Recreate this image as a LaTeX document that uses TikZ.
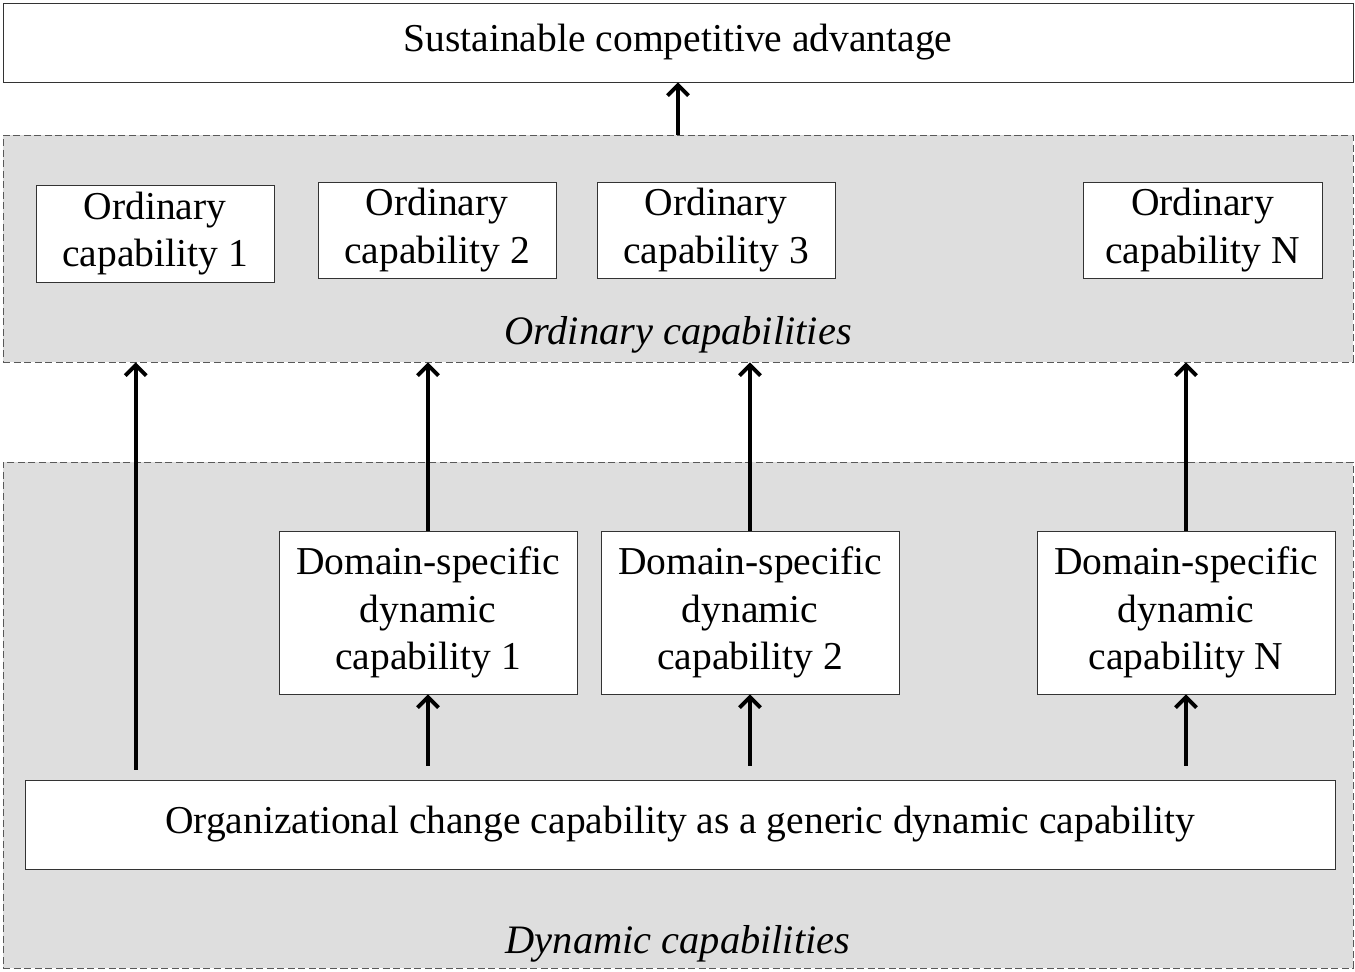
\documentclass[tikz,border=0pt]{standalone}
\usepackage{fontspec}
\setmainfont{Liberation Serif}
\usetikzlibrary{positioning,calc,arrows.meta}

\begin{document}
\begin{tikzpicture}[x=0.02cm,y=-0.02cm,
    capbox/.style={draw=black!80,fill=white,align=center,inner sep=0pt,
      font=\fontsize{22.5}{27}\selectfont},
    layer/.style={draw=black!65,dash pattern=on 4pt off 2pt,fill=black!13,inner sep=0pt},
    uparrow/.style={line width=2.2pt,-{Straight Barb[length=6pt,width=12pt]}}]
    \useasboundingbox (0,0) rectangle (1355,971);

    % the two dashed layers
    \node[layer,minimum width=27cm,minimum height=4.54cm] (ordlayer) at (678,248.5) {};
    \node[layer,minimum width=27cm,minimum height=10.12cm] (dynlayer) at (678,715) {};
    \node[font=\fontsize{23}{27}\selectfont\itshape] (ordlabel) at (678,335) {Ordinary capabilities};
    \node[font=\fontsize{23}{27}\selectfont\itshape] (dynlabel) at (678,944) {Dynamic capabilities};

    % top box
    \node[capbox,minimum width=27cm,minimum height=1.58cm] (sca) at (678,42.5)
      {\raisebox{-2.5pt}{Sustainable competitive advantage}};

    % ordinary capabilities
    \node[capbox,minimum width=4.76cm,minimum height=1.94cm] (oc1) at (155,233.5) {Ordinary\\capability 1};
    \node[capbox,minimum width=4.76cm,minimum height=1.92cm] (oc2) at (437,230) {Ordinary\\capability 2};
    \node[capbox,minimum width=4.76cm,minimum height=1.92cm] (oc3) at (716,230) {Ordinary\\capability 3};
    \node[capbox,minimum width=4.78cm,minimum height=1.92cm] (ocn) at (1202.5,230) {Ordinary\\capability N};

    % domain-specific dynamic capabilities
    \node[capbox,minimum width=5.96cm,minimum height=3.26cm] (ds1) at (428,612.5) {Domain-specific\\dynamic\\capability 1};
    \node[capbox,minimum width=5.96cm,minimum height=3.26cm] (ds2) at (750,612.5) {Domain-specific\\dynamic\\capability 2};
    \node[capbox,minimum width=5.96cm,minimum height=3.26cm] (dsn) at (1186,612.5) {Domain-specific\\dynamic\\capability N};

    % generic dynamic capability
    \node[capbox,minimum width=26.2cm,minimum height=1.78cm] (org) at (680,824.5)
      {Organizational change capability as a generic dynamic capability};

    % arrows
    \draw[uparrow] (ordlayer.north) -- (sca.south);
    \draw[uparrow] ([xshift=2.22cm,yshift=0.2cm]org.north west) coordinate (a1) -- (a1 |- ordlayer.south);
    \foreach \d in {ds1,ds2,dsn} {
      \draw[uparrow] (\d.north) -- (\d.north |- ordlayer.south);
      \draw[uparrow] ([yshift=0.28cm]\d.south |- org.north) -- (\d.south);
    }
\end{tikzpicture}
\end{document}
